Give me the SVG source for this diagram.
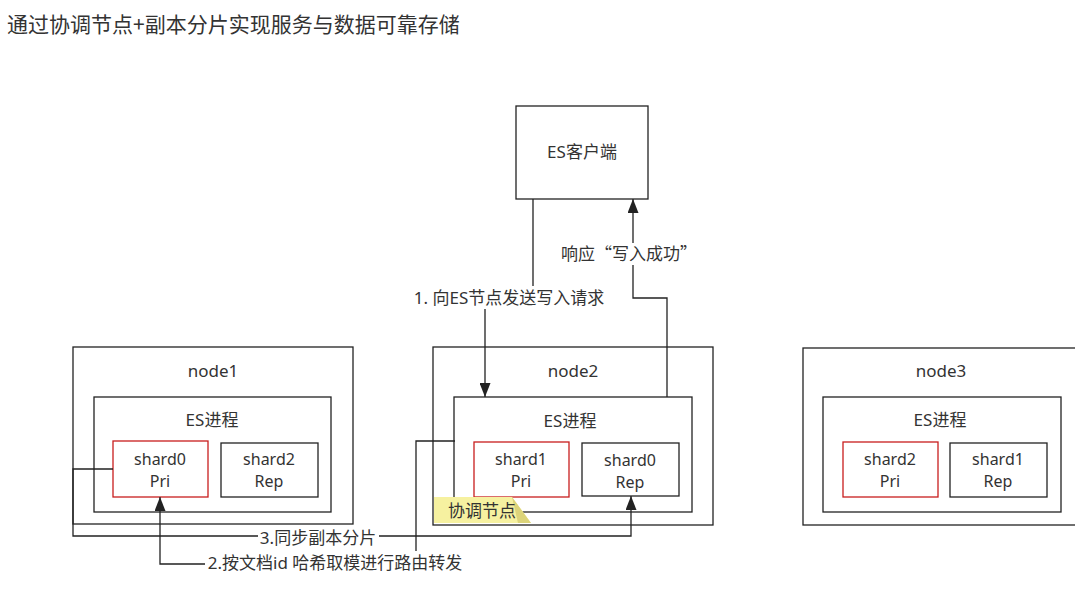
<svg xmlns="http://www.w3.org/2000/svg" width="1075" height="602" viewBox="0 0 1075 602">
<defs>
<style>
.box{fill:#fff;stroke:#222;stroke-width:1.3}
.pri{fill:#fff;stroke:#c81e1e;stroke-width:1.3}
.t{font-family:"Noto Sans","Noto Sans CJK SC",sans-serif;font-size:17px;fill:#333;text-anchor:middle}
.s{font-size:16px}
.cjk{font-family:"Noto Sans CJK SC","Noto Sans",sans-serif}
.edge{fill:none;stroke:#222;stroke-width:1.3}
.lbg{fill:#fff}
</style>
<marker id="arr" viewBox="0 0 14 11" refX="14" refY="5.5" markerWidth="14" markerHeight="11" markerUnits="userSpaceOnUse" orient="auto">
<path d="M0,0 L14,5.5 L0,11 Z" fill="#222"/>
</marker>
</defs>
<rect width="1075" height="602" fill="#fff"/>
<text x="7" y="32" style="font-family:'Noto Sans CJK SC','Noto Sans',sans-serif;font-size:21px;fill:#333">通过协调节点+副本分片实现服务与数据可靠存储</text>

<g id="client">
<rect class="box" x="516" y="106" width="132" height="93"/>
<text class="t" x="582" y="158">ES客户端</text>
</g>

<g id="node1">
<rect class="box" x="73" y="347" width="280" height="177"/>
<text class="t" x="213" y="377">node1</text>
<rect class="box" x="94" y="397" width="237" height="115"/>
<text class="t" x="212" y="426">ES进程</text>
<rect class="pri" x="113" y="441" width="95" height="56"/>
<text class="t s" x="160" y="465">shard0</text>
<text class="t s" x="160" y="487">Pri</text>
<rect class="box" x="221" y="443" width="97" height="54"/>
<text class="t s" x="269" y="465">shard2</text>
<text class="t s" x="269" y="487">Rep</text>
</g>

<g id="node2">
<rect class="box" x="433" y="347" width="280" height="178"/>
<text class="t" x="573" y="377">node2</text>
<rect class="box" x="454" y="397" width="238" height="115"/>
<text class="t" x="570" y="427">ES进程</text>
<rect class="pri" x="474" y="442" width="95" height="55"/>
<text class="t s" x="521" y="465">shard1</text>
<text class="t s" x="521" y="487">Pri</text>
<rect class="box" x="582" y="443" width="97" height="53"/>
<text class="t s" x="630" y="466">shard0</text>
<text class="t s" x="630" y="488">Rep</text>
</g>

<g id="node3">
<rect class="box" x="803" y="348" width="280" height="177"/>
<text class="t" x="941" y="377">node3</text>
<rect class="box" x="823" y="397" width="238" height="115"/>
<text class="t" x="940" y="426">ES进程</text>
<rect class="pri" x="843" y="442" width="95" height="55"/>
<text class="t s" x="890" y="465">shard2</text>
<text class="t s" x="890" y="487">Pri</text>
<rect class="box" x="950" y="443" width="97" height="54"/>
<text class="t s" x="998" y="465">shard1</text>
<text class="t s" x="998" y="487">Rep</text>
</g>

<g id="coordinator">
<polygon points="434,497 512,497 531,523 434,523" fill="#f6f1a0"/>
<polygon points="512,497 531,523 518,523" fill="#dcd47a"/>
<text class="t" x="482" y="517">协调节点</text>
</g>

<g id="connectors">
<path class="edge" d="M533,199 V298 H485 V397" marker-end="url(#arr)"/>
<path class="edge" d="M667,397 V298 H633 V199" marker-end="url(#arr)"/>
<path class="edge" d="M455,441 H416 V564 H160 V497" marker-end="url(#arr)"/>
<path class="edge" d="M113,469 H73 V536 H631 V496" marker-end="url(#arr)"/>
<rect class="lbg" x="412" y="286" width="194" height="23"/>
<text class="t" x="509" y="304">1. 向ES节点发送写入请求</text>
<rect class="lbg" x="561" y="243" width="136" height="22"/>
<text class="t cjk" x="629" y="260">响应“写入成功”</text>
<rect class="lbg" x="258" y="527" width="121" height="22"/>
<text class="t" x="318" y="544">3.同步副本分片</text>
<rect class="lbg" x="205" y="551" width="260" height="25"/>
<text class="t" x="335" y="569">2.按文档id 哈希取模进行路由转发</text>
</g>
</svg>
